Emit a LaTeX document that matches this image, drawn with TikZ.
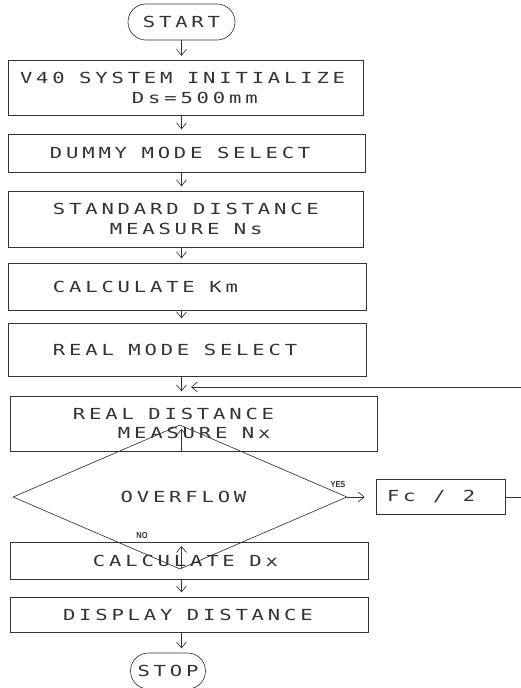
\documentclass[tikz,border=0pt]{standalone}
\usepackage{fontspec}
\setmainfont{DejaVu Sans Mono}[FakeStretch=1.35, LetterSpace=25]
\newfontfamily\lblfont{Liberation Sans}[FakeStretch=0.85]
\usetikzlibrary{arrows.meta,positioning,shapes.geometric,shapes.misc}
\setlength{\unitlength}{0.3mm}
\newcommand{\plotfnt}{\fontsize{13}{16.5}\selectfont}
\definecolor{ink}{gray}{0.2}
\tikzset{
  flowarr/.style={-{Straight Barb[length=1.8mm,width=3mm]}, line width=0.55pt, ink, shorten >=1.3mm},
  procbox/.style={draw=ink, line width=0.55pt, rectangle, inner xsep=0pt, inner ysep=0pt,
    align=left, text=ink, font=\plotfnt},
  boxwh/.style 2 args={minimum width=#1*0.3mm, text width=#1*0.3mm, minimum height=#2*0.3mm},
  termbox/.style={draw=ink, line width=0.55pt, rounded rectangle, inner sep=0pt, text=ink, font=\plotfnt},
  decbox/.style={draw=ink, line width=0.55pt, diamond, inner sep=0pt, text=ink, font=\plotfnt},
  tinylbl/.style={text=ink, inner sep=0pt, font=\lblfont\fontsize{7.5}{9}\selectfont\bfseries},
}
\newcommand{\ind}[1]{\hspace*{#1\unitlength}}
\newcommand{\sk}{\hspace*{14.5\unitlength}}

\begin{document}
\begin{tikzpicture}[x=0.3mm, y=-0.3mm]
    \useasboundingbox[fill=white] (0,0) rectangle (521,688);
    % terminals
    \node[termbox, minimum width=32.1mm, minimum height=10.8mm] (start) at (181.5,22) {START};
    \node[termbox, minimum width=22.5mm, minimum height=10.8mm] (stop) at (168,671) {STOP};
    % process steps
    \node[procbox, boxwh={355}{55}] (init) at (185.5,88) {\ind{12}V40\sk SYSTEM\sk INITIALIZE\\\ind{124}Ds=500mm};
    \node[procbox, boxwh={357}{38}] (dummy) at (186.5,153) {\ind{42}DUMMY\sk MODE\sk SELECT};
    \node[procbox, boxwh={355}{56}] (stdm) at (185.5,219) {\ind{45}STANDARD\sk DISTANCE\\\ind{102}MEASURE\sk Ns};
    \node[procbox, boxwh={358}{47}] (calkm) at (187,286.5) {\ind{45}CALCULATE\sk Km};
    \node[procbox, boxwh={358}{53}] (rmode) at (187,349.5) {\ind{45}REAL\sk MODE\sk SELECT};
    \node[procbox, boxwh={367}{55}] (rdist) at (193.5,423.5) {\ind{63}REAL\sk DISTANCE\\\ind{108}MEASURE\sk Nx};
    \node[decbox, minimum width=100.2mm, minimum height=17.4mm] (ovf) at (180,497) {\ind{7}OVERFLOW};
    \node[procbox, boxwh={129}{35}] (fc) at (440.5,497) {\ind{11}Fc\sk\ind{3}/\sk\ind{3}2};
    \node[procbox, boxwh={358}{37}] (caldx) at (189,560.5) {\ind{83}CALCULATE\sk Dx};
    \node[procbox, boxwh={358}{35}] (disp) at (189,614.5) {\ind{53}DISPLAY\sk DISTANCE};
    % branch labels
    \node[tinylbl] (yes) at (338,484) {YES};
    \node[tinylbl] (no) at (142,535) {NO};
    \coordinate (loopin) at (191,387);
    % main flow
    \foreach \a/\b in {start/init, init/dummy, dummy/stdm, stdm/calkm, calkm/rmode,
                       rmode/rdist, rdist/ovf, ovf/caldx, caldx/disp, disp/stop}
      \draw[flowarr] (\a.south -| start) -- (\b.north -| start);
    \draw[flowarr, shorten >=3.3mm] (ovf.east) -- (fc.west);
    \draw[flowarr, shorten >=0pt] (fc.east) -- ++(40,0) |- (loopin);
\end{tikzpicture}
\end{document}
